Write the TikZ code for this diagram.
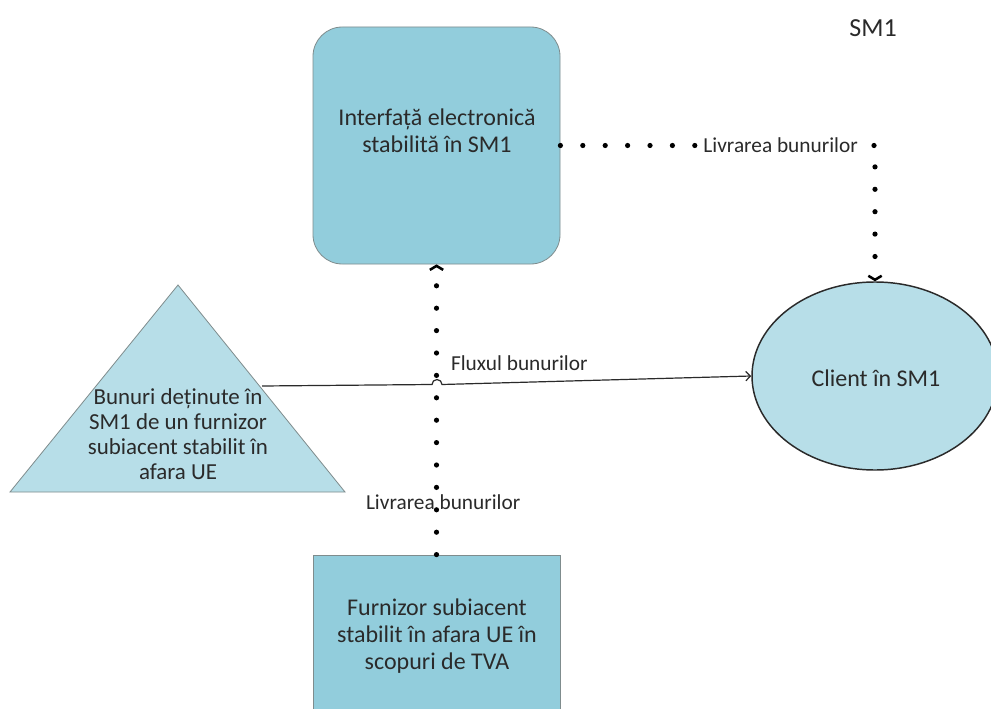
\documentclass[tikz,border=0pt]{standalone}
\usepackage{fontspec}
\setmainfont{Carlito}
\usetikzlibrary{arrows.meta,shapes.geometric}

\definecolor{aquadark}{HTML}{92CDDC}
\definecolor{aqualight}{HTML}{B7DEE8}
\definecolor{edgegray}{HTML}{7F8C8D}
\definecolor{inkgray}{HTML}{2A2A2A}

\tikzset{
  boxtext/.style={font=\fontsize{18}{20.5}\selectfont, text=inkgray, align=center},
  tritext/.style={font=\fontsize{17.2}{18.8}\selectfont, text=inkgray, align=center},
  labeltext/.style={font=\fontsize{16}{18}\selectfont, text=inkgray, inner sep=0pt},
  flowline/.style={draw=inkgray, line width=0.9pt},
  dotline/.style={draw=black, line width=3.9pt, line cap=round,
                  dash pattern=on 0pt off 16.8pt},
  chevron/.style={-{Straight Barb[length=3pt,width=10pt,line width=1.9pt]}},
}

\begin{document}
\begin{tikzpicture}[x=0.75pt,y=-0.75pt]
  \path[use as bounding box, clip] (0,0) rectangle (991,709);
  \fill[white] (0,0) rectangle (991,709);

  % electronic interface
  \node[draw=edgegray, line width=0.6pt, fill=aquadark, rounded corners=22pt,
        minimum width=185.25pt, minimum height=177.75pt, inner sep=0pt]
        (iface) at (436.5,145.5) {};
  \node[boxtext] (ifacetext) at (437,131)
        {Interfață electronică\\stabilită în SM1};

  % customer
  \node[draw=inkgray, line width=1.1pt, fill=aqualight, ellipse,
        minimum width=184.5pt, minimum height=141pt, inner sep=0pt]
        (client) at (875,376) {};
  \node[boxtext] (clienttext) at (876,378) {Client în SM1};

  % goods held in SM1
  \coordinate (apex) at (178,285);
  \coordinate (baseL) at (10,492);
  \coordinate (baseR) at (345,492);
  \filldraw[draw=edgegray, line width=0.6pt, fill=aqualight]
        (apex) -- (baseR) -- (baseL) -- cycle;
  \node[tritext] (goods) at (178,434)
        {Bunuri deținute în\\SM1 de un furnizor\\subiacent stabilit în\\afara UE};

  % underlying supplier
  \node[draw=edgegray, line width=0.6pt, fill=aquadark,
        minimum width=185.25pt, minimum height=121.5pt, inner sep=0pt]
        (supplier) at (436.5,636) {};
  \node[boxtext] (suppliertext) at (437,636)
        {Furnizor subiacent\\stabilit în afara UE în\\scopuri de TVA};

  % member state tag
  \node[boxtext, font=\fontsize{19.5}{21}\selectfont] (sm) at (873,28) {SM1};

  % supply from supplier to interface
  \draw[dotline, chevron] (supplier.north) --
        node[labeltext, pos=0.18, xshift=5pt] (lblsupply) {Livrarea bunurilor}
        (iface.south);

  % supply from interface to customer
  \draw[dotline, chevron] (iface.east) -|
        node[labeltext, fill=white, pos=0.35] (lbldeliver) {Livrarea bunurilor}
        (client.north);

  % flow of goods, hopping over the dotted connector
  \coordinate (flowstart) at (262,386);
  \coordinate (hopL) at (432,384.5);
  \draw[flowline, -{Straight Barb[length=3.5pt,width=7pt]}]
        (flowstart) -- (hopL) arc[start angle=180, end angle=0, radius=3.75pt]
        -- node[labeltext, pos=0.25, anchor=south, yshift=8pt] (lblflow) {Fluxul bunurilor}
        (client.west);
\end{tikzpicture}
\end{document}
